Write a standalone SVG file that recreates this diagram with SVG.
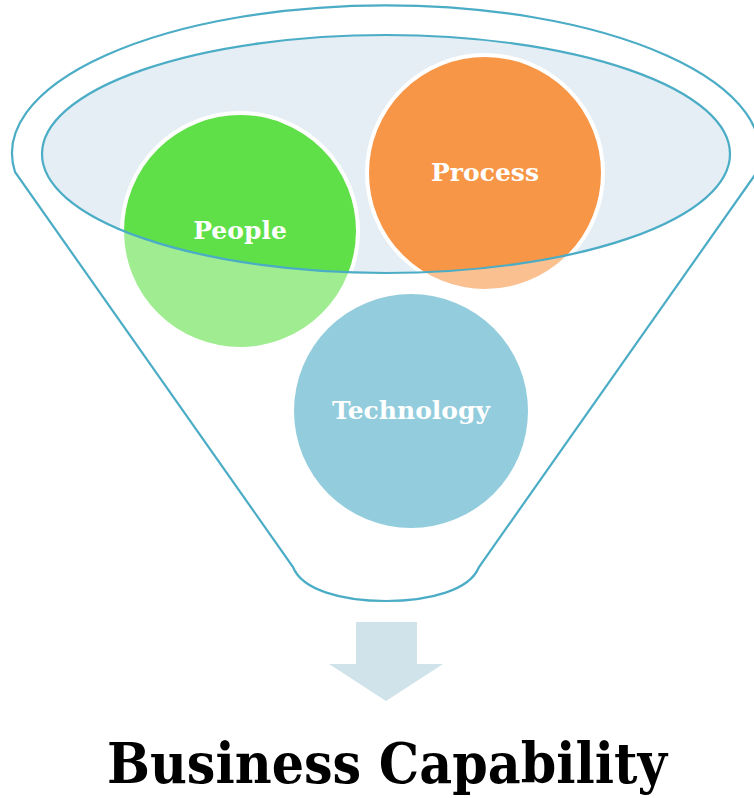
<svg xmlns="http://www.w3.org/2000/svg" width="754" height="798" viewBox="0 0 754 798">
  <style>
    .outline { fill: none; stroke: #4BACC6; stroke-width: 2.2; }
    .node { stroke: #FFFFFF; stroke-width: 4; }
    .label { font-family: "DejaVu Serif", "Liberation Serif", serif; font-weight: bold; font-size: 25px; fill: #FFFFFF; text-anchor: middle; }
    .title { font-family: "DejaVu Serif", "Liberation Serif", serif; font-weight: bold; font-size: 56px; fill: #000000; text-anchor: middle; }
  </style>
  <rect width="754" height="798" fill="#FFFFFF"/>
  <g id="funnel">
    <path d="M 15,172 A 374 148 0 1 1 757,172 L 479,567 C 470,590 430,601 386,601 C 342,601 302,590 293,567 Z" fill="#FFFFFF" stroke="none"/>
    <ellipse cx="386" cy="154" rx="344" ry="119" fill="#E4EEF4"/>
  </g>
  <g id="people">
    <circle class="node" cx="240" cy="231" r="118" fill="#60E048"/>
  </g>
  <g id="process">
    <circle class="node" cx="485" cy="173" r="118" fill="#F79646"/>
  </g>
  <g id="technology">
    <circle cx="411" cy="411" r="117" fill="#4BACC6"/>
  </g>
  <path d="M 0,0 H 754 V 640 H 0 Z M 42,154 A 344 119 0 1 0 730,154 A 344 119 0 1 0 42,154 Z" fill="#FFFFFF" fill-opacity="0.4" fill-rule="evenodd"/>
  <g id="funnel-outline">
    <path class="outline" d="M 15,172 A 374 148 0 1 1 757,172 L 479,567 C 470,590 430,601 386,601 C 342,601 302,590 293,567 Z"/>
    <ellipse class="outline" cx="386" cy="154" rx="344" ry="119"/>
  </g>
  <g id="labels">
    <text class="label" x="240" y="239">People</text>
    <text class="label" x="485" y="181">Process</text>
    <text class="label" x="411" y="419">Technology</text>
  </g>
  <g id="connectors">
    <path d="M 356,622 H 417 V 664 H 443 L 386,701 L 329,664 H 356 Z" fill="#D0E3EA"/>
  </g>
  <g id="result">
    <text class="title" x="387" y="783" textLength="560" lengthAdjust="spacingAndGlyphs">Business Capability</text>
  </g>
</svg>
